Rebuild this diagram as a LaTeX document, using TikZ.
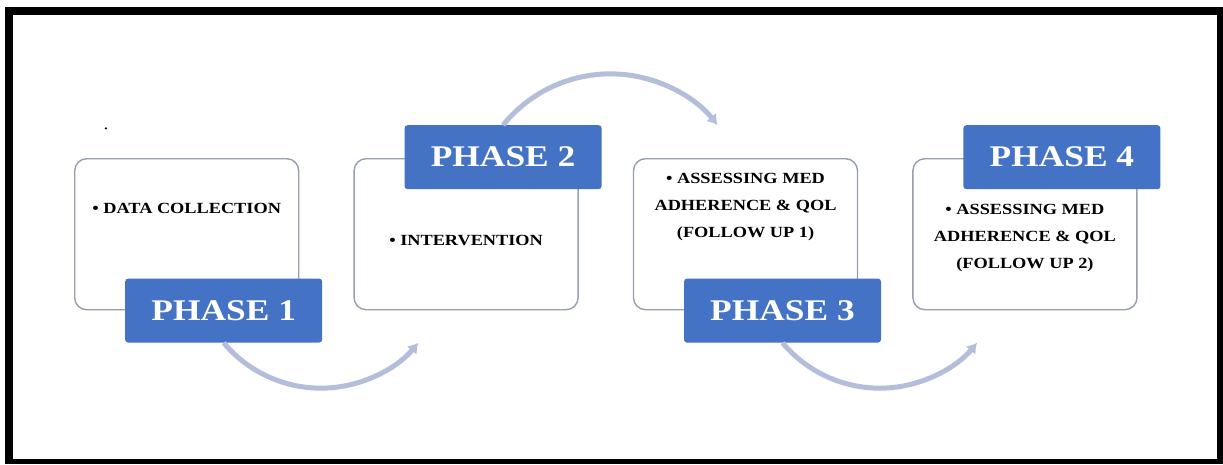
\documentclass[tikz,border=0pt]{standalone}
\usepackage{fontspec}
\setmainfont{Liberation Serif}[FakeStretch=1.18]
\usetikzlibrary{arrows.meta, positioning, calc}
\definecolor{phaseblue}{RGB}{68,114,196}
\definecolor{arcblue}{RGB}{180,190,218}
\definecolor{boxgray}{RGB}{150,158,176}

\begin{document}
\begin{tikzpicture}[
		x=1pt, y=-1pt,
		card/.style={
			rectangle, 
			draw=boxgray, 
			fill=white, 
			line width=1.4pt, 
			rounded corners=12pt, 
			minimum width=224pt, 
			minimum height=151pt, 
			inner sep=0pt
		},
		phase/.style={
			rectangle, 
			fill=phaseblue, 
			rounded corners=3pt, 
			minimum width=197pt, 
			minimum height=64pt, 
			inner sep=0pt, 
			anchor=north west, 
			text=white, 
			font=\fontsize{30}{36}\selectfont\bfseries
		},
		item/.style={
			align=center, 
			inner sep=0pt, 
			font=\fontsize{15.5}{27}\selectfont\bfseries
		},
		flow/.style={
			-{Latex[length=10pt, width=13pt]}, 
			line width=5pt, 
			draw=arcblue
		}
		]
		
		% Frame
		\useasboundingbox (0,0) rectangle (1223,464);
		\fill[black] (5,7) rectangle (1223,464);
		\fill[white] (13,15) rectangle (1217,459);
		
		% Main nodes
		\node (box1) [card, anchor=north west] at (74,158) {};
		\node (box2) [card, right=54pt of box1] {};
		\node (box3) [card, right=54pt of box2] {};
		\node (box4) [card, right=54pt of box3] {};
		
		\node (ph1) [phase] at ($(box1.south west)+(51,-32)$) {PHASE 1};
		\node (ph2) [phase] at ($(box2.north west)+(51,-33)$) {PHASE 2};
		\node (ph3) [phase] at ($(box3.south west)+(51,-32)$) {PHASE 3};
		\node (ph4) [phase] at ($(box4.north west)+(51,-33)$) {PHASE 4};
		
		% Texts inside the boxes
		\node (dot) [font=\fontsize{8}{8}\selectfont] at (106,130) {•};
		\node (txt1) [item] at ($(box1.north)+(0,50)$) {• DATA COLLECTION};
		\node (txt2) [item] at ($(box2.north)+(0,82)$) {• INTERVENTION};
		\node (txt3) [item] at ($(box3.north)+(0,49)$) {• ASSESSING MED\\ADHERENCE \& QOL\\(FOLLOW UP 1)};
		\node (txt4) [item] at ($(box4.north)+(0,80)$) {• ASSESSING MED\\ADHERENCE \& QOL\\(FOLLOW UP 2)};
		
		% Connection arrows
		\draw [flow] (ph1.south) arc[start angle=140, end angle=40, radius=127];
		\draw [flow] (ph2.north) arc[start angle=-141, end angle=-39, radius=138];
		\draw [flow] (ph3.south) arc[start angle=140, end angle=40, radius=127];
		
	\end{tikzpicture}
\end{document}
